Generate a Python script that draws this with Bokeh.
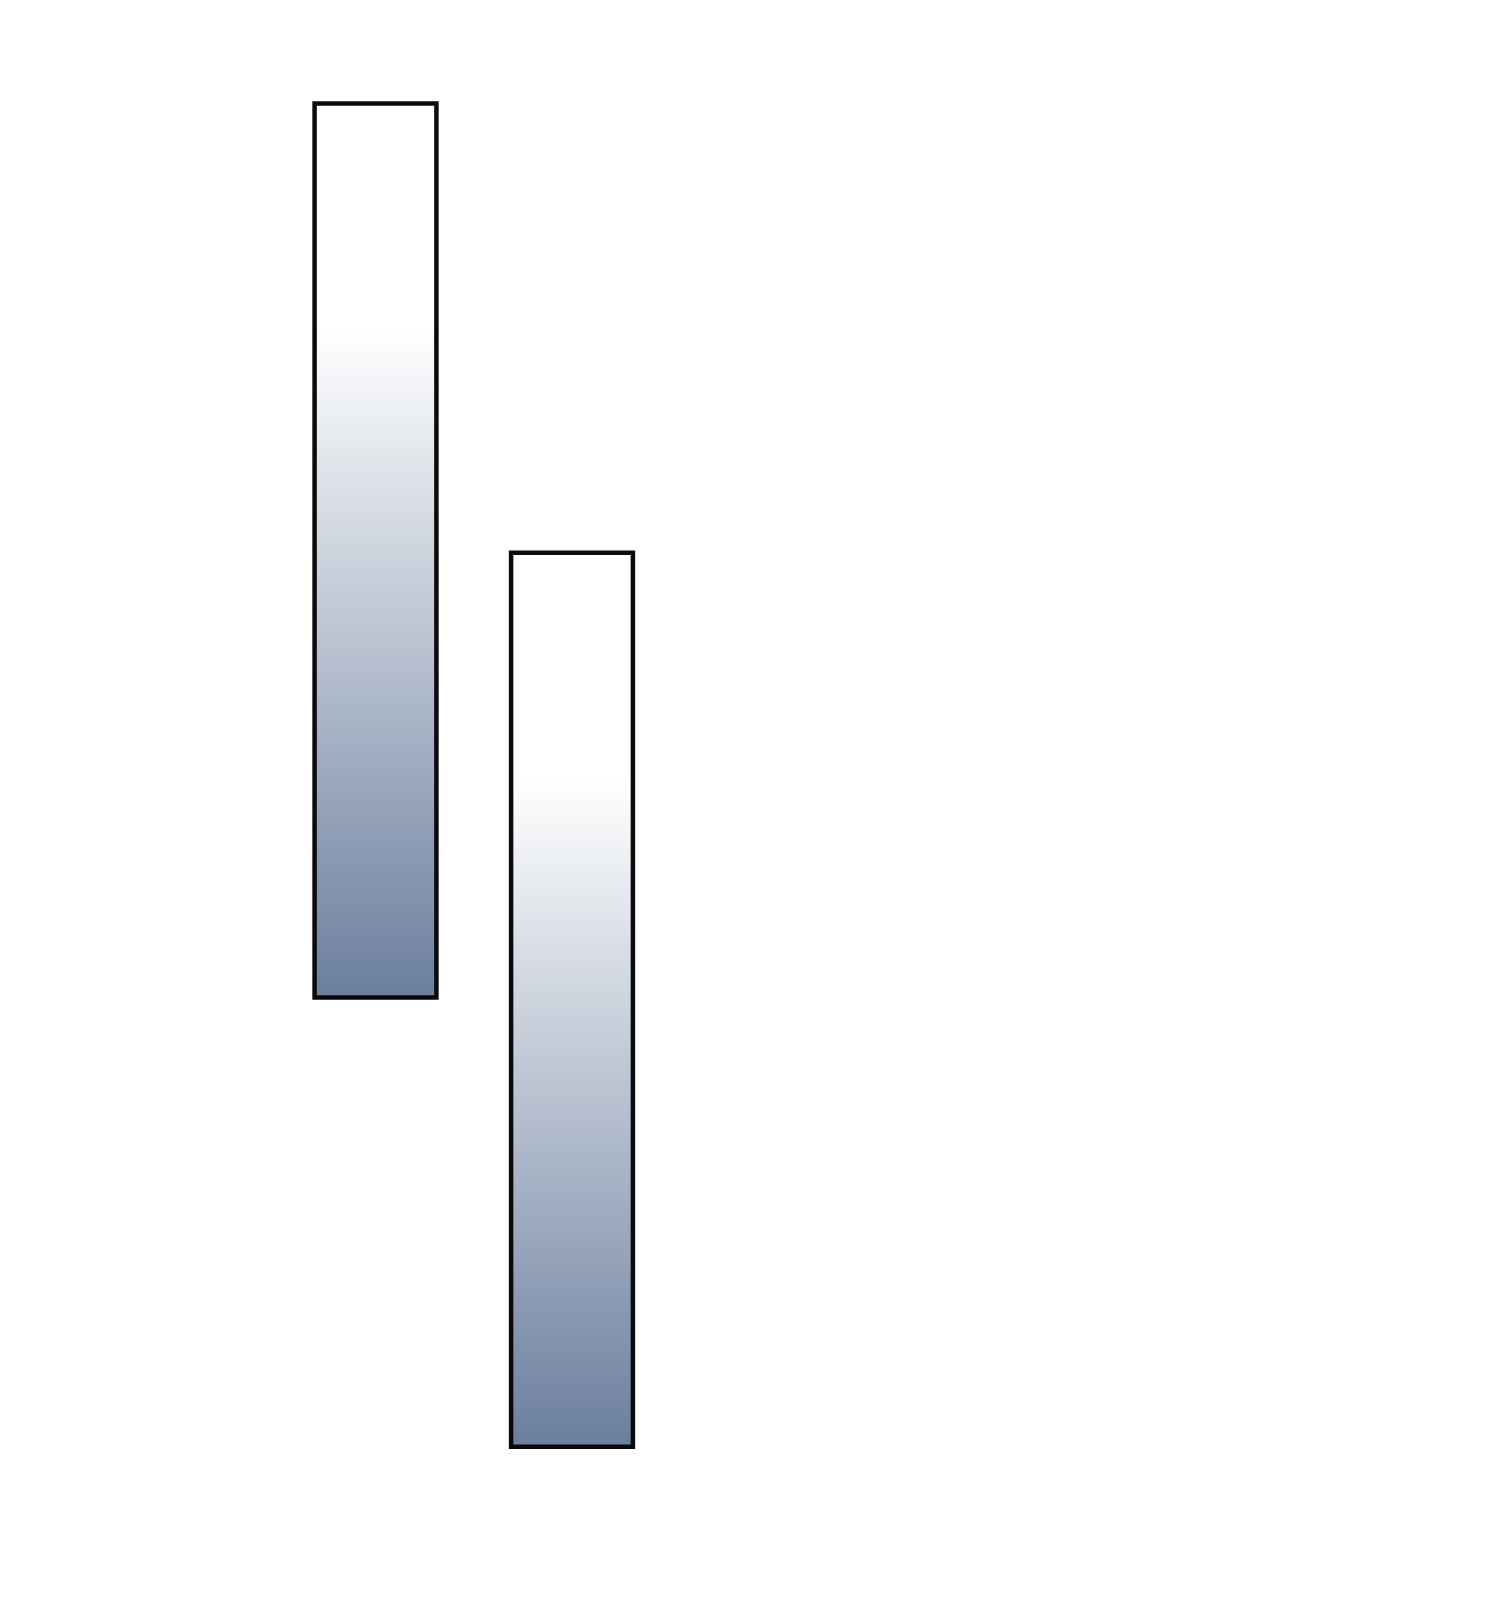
import numpy as np
from bokeh.plotting import figure
from bokeh.models import Range1d
from bokeh.embed import file_html
from bokeh.resources import INLINE

# Data: two floating bars (x position, bottom value, top value)
bar_x = [0, 1]
bar_bottom = [0.0, -1.005]
bar_top = [2.0, 0.995]
bar_width = 0.62

# Gradient styling (top -> bottom)
grad_top_color = (255, 255, 255)
grad_bottom_color = (107, 127, 158)
grad_white_fraction = 0.25

p = figure(width=1484, height=1600, output_backend="svg", toolbar_location=None,
           x_range=Range1d(-1.9084, 5.6438), y_range=Range1d(-1.3490, 2.2304),
           min_border=0)
p.axis.visible = False
p.grid.visible = False
p.outline_line_color = None
p.background_fill_color = "white"
p.border_fill_color = "white"

N = 600
for x, b, t in zip(bar_x, bar_bottom, bar_top):
    # row 0 = bottom of the image
    frac_from_top = 1.0 - (np.arange(N) + 0.5) / N
    s = np.clip((frac_from_top - grad_white_fraction) / (1 - grad_white_fraction), 0, 1)
    img = np.empty((N, 1), dtype=np.uint32)
    view = img.view(dtype=np.uint8).reshape((N, 1, 4))
    for k in range(3):
        view[:, 0, k] = np.round(grad_top_color[k] + s * (grad_bottom_color[k] - grad_top_color[k])).astype(np.uint8)
    view[:, 0, 3] = 255
    p.image_rgba(image=[img], x=x - bar_width / 2, y=b, dw=bar_width, dh=t - b)

p.quad(left=[x - bar_width / 2 for x in bar_x], right=[x + bar_width / 2 for x in bar_x],
       bottom=bar_bottom, top=bar_top, fill_color=None, line_color="#0d0a0b", line_width=4.5,
       line_join="miter")

open("out.html", "w").write(file_html(p, INLINE))
